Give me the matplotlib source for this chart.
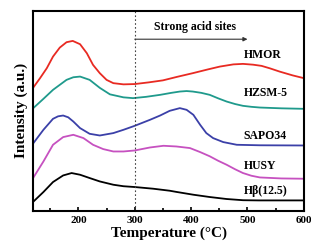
import matplotlib
matplotlib.use("Agg")
import matplotlib.pyplot as plt
from matplotlib.ticker import MultipleLocator

plt.rcParams["font.family"] = ["Liberation Serif", "DejaVu Serif"]
plt.rcParams["font.weight"] = "bold"

# temperatures (°C) and intensities (a.u., stacked offsets as drawn)
t_hmor = [120, 132, 144, 155, 167, 179, 190, 203, 215, 226, 238, 250, 262, 280,
          300, 325, 350, 375, 403, 430, 451, 475, 492, 510, 525, 540, 557, 580, 600]
i_hmor = [123.3, 132.7, 142.7, 154.3, 163.3, 168.7, 170, 166.7, 157.7, 146,
          137.7, 131, 127.7, 126.5, 126.8, 128.5, 130.5, 134, 137.7, 141.5,
          144.3, 146.5, 147, 146.2, 145, 142.5, 139.3, 135.5, 132.7]

t_hzsm = [120, 138, 155, 179, 191, 203, 220, 238, 256, 280, 297, 320, 345, 365,
          380, 392, 403, 418, 433, 448, 463, 478, 492, 507, 522, 560, 600]
i_hzsm = [102.7, 112, 121, 131, 133.6, 134.3, 131, 123, 116.5, 113.5, 112.7,
          114, 116, 118, 119.3, 119.8, 119.3, 118, 116, 112.5, 109.3, 106.8,
          105, 104, 103.3, 102.5, 102]

t_sapo = [120, 138, 155, 164, 173, 182, 191, 203, 220, 238, 262, 280, 300, 327,
          345, 362, 380, 392, 404, 416, 427, 439, 457, 481, 522, 600]
i_sapo = [67.5, 81, 92, 94.5, 95.3, 93.5, 89.3, 82.7, 77, 75.3, 77.7, 81, 85,
          91, 95.3, 100, 102.7, 101, 96, 86, 77.7, 72.7, 68.7, 66, 65.5, 65.3]

t_husy = [120, 138, 155, 173, 191, 209, 226, 244, 262, 280, 300, 327, 351, 374,
          398, 416, 433, 448, 463, 478, 492, 507, 522, 560, 600]
i_husy = [33, 49.3, 66, 73.7, 76, 72.7, 66, 61.7, 59.3, 59.3, 60.3, 63.3, 65,
          64.3, 62.7, 58.7, 54.5, 50, 46, 41.5, 37.7, 35, 33.3, 32.3, 32]

t_hbeta = [120, 138, 155, 173, 188, 203, 220, 238, 262, 280, 300, 333, 362, 374,
           404, 433, 463, 492, 520, 600]
i_hbeta = [9, 18.7, 28.7, 35.3, 37.7, 36, 32.7, 29.3, 26, 24.5, 23.7, 22, 20,
           18.8, 16, 13.7, 11.7, 10.5, 10.3, 10.3]

series = [
    ("HMOR", t_hmor, i_hmor, "#e82a22", 156),
    ("HZSM-5", t_hzsm, i_hzsm, "#1f9a8c", 117.7),
    ("SAPO34", t_sapo, i_sapo, "#3b40a8", 75),
    ("HUSY", t_husy, i_husy, "#c651c0", 44.3),
    ("H\u03b2(12.5)", t_hbeta, i_hbeta, "black", 19.3),
]

fig = plt.figure(figsize=(3.11, 2.46), dpi=100)
ax = fig.add_axes([0.107, 0.1435, 0.870, 0.812])

for name, t, y, color, label_y in series:
    ax.plot(t, y, color=color, lw=1.3, solid_joinstyle="round")
    ax.text(493, label_y, name, fontsize=8.5, fontweight="bold",
            ha="left", va="center")

# strong acid region marker
ax.axvline(300, color="#444444", ls=(0, (1.5, 2)), lw=0.8)
ax.annotate("", xy=(500, 171.7), xytext=(300, 171.7),
            arrowprops=dict(arrowstyle="-|>", color="#333333", lw=0.8,
                            mutation_scale=6, shrinkA=0, shrinkB=0))
ax.text(335, 183.7, "Strong acid sites", fontsize=8.5, fontweight="bold",
        ha="left", va="center")

ax.set_xlim(120, 600)
ax.set_ylim(0, 200)
ax.set_yticks([])
ax.xaxis.set_major_locator(MultipleLocator(100))
ax.xaxis.set_minor_locator(MultipleLocator(50))
ax.tick_params(axis="x", which="both", direction="in", top=False,
               labelsize=8, width=1.2, pad=4)
ax.tick_params(axis="x", which="major", length=3)
ax.tick_params(axis="x", which="minor", length=2)
for lab in ax.get_xticklabels():
    lab.set_fontweight("bold")
for sp in ax.spines.values():
    sp.set_linewidth(1.5)

ax.set_xlabel("Temperature (\u00b0C)", fontsize=11, fontweight="bold", labelpad=1)
ax.set_ylabel("Intensity (a.u.)", fontsize=11, fontweight="bold", labelpad=4)

fig.savefig("out.png", dpi=100)
